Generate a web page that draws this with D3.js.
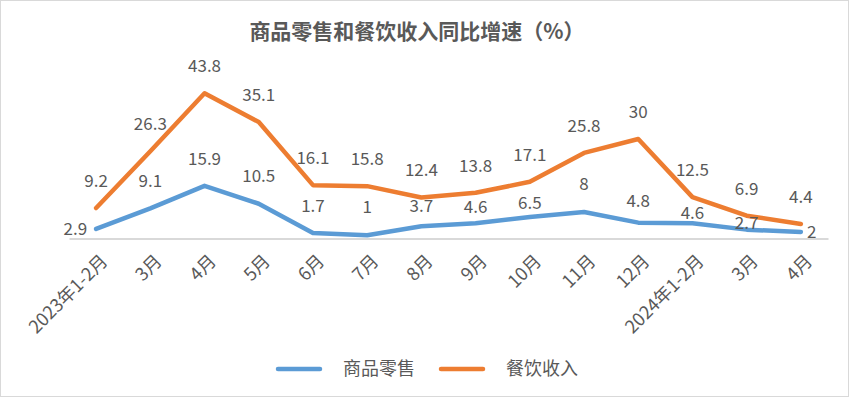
<!DOCTYPE html>
<html>
<head>
<meta charset="utf-8">
<script src="https://cdn.jsdelivr.net/npm/d3@7"></script>
<style>
  html, body { margin: 0; padding: 0; background: #fff; }
  svg { display: block; font-family: "Noto Sans CJK SC", "Noto Sans", sans-serif; }
</style>
</head>
<body>
<div id="chart"></div>
<script>
const categories = ['2023年1-2月', '3月', '4月', '5月', '6月', '7月', '8月', '9月', '10月', '11月', '12月', '2024年1-2月', '3月', '4月'];
const goodsValues = [2.9, 9.1, 15.9, 10.5, 1.7, 1, 3.7, 4.6, 6.5, 8, 4.8, 4.6, 2.7, 2];
const cateringValues = [9.2, 26.3, 43.8, 35.1, 16.1, 15.8, 12.4, 13.8, 17.1, 25.8, 30, 12.5, 6.9, 4.4];
const seriesNames = ['商品零售', '餐饮收入'];

// label distance above the point (excel nudged some of the blue ones)
const goodsLabelLift = [0, 27, 27, 28, 27, 28, 20, 16, 14, 28, 22, 10, 7, 0];

const width = 851;
const height = 399;
const margin = {top: 72, right: 23, bottom: 161, left: 69};
const textColor = '#595959';

const svg = d3.select('#chart').append('svg')
  .attr('width', width)
  .attr('height', height);

svg.append('rect')
  .attr('x', 0.5).attr('y', 0.5)
  .attr('width', width - 3).attr('height', height - 3)
  .attr('fill', '#fff')
  .attr('stroke', '#d9d9d9');

svg.append('text')
  .attr('x', 417)
  .attr('y', 39)
  .attr('text-anchor', 'middle')
  .attr('fill', textColor)
  .attr('font-size', 21)
  .attr('font-weight', 'bold')
  .text('商品零售和餐饮收入同比增速（%）');

const x = d3.scaleBand()
  .domain(d3.range(categories.length))
  .range([margin.left, width - margin.right]);

const y = d3.scaleLinear()
  .domain([0, 50])
  .range([height - margin.bottom + 0.6, margin.top + 0.6]);

const cx = i => x(i) + x.bandwidth() / 2;

// x axis
const xAxis = d3.axisBottom(x).tickSize(0).tickFormat(i => categories[i]);
const gx = svg.append('g')
  .attr('transform', `translate(0,${y(0)})`)
  .call(xAxis);
gx.select('.domain').attr('stroke', '#d9d9d9').attr('stroke-width', 2);
gx.selectAll('.tick text')
  .attr('fill', textColor)
  .attr('font-size', 18)
  .attr('font-family', '"Noto Sans CJK SC", sans-serif')
  .attr('text-anchor', 'end')
  .attr('dy', '0.35em')
  .attr('transform', 'translate(6,17) rotate(-45)');

const line = d3.line()
  .x((d, i) => cx(i))
  .y(d => y(d));

const series = [
  {name: seriesNames[0], values: goodsValues, color: '#5b9bd5'},
  {name: seriesNames[1], values: cateringValues, color: '#ed7d31'}
];

series.forEach(s => {
  svg.append('path')
    .datum(s.values)
    .attr('fill', 'none')
    .attr('stroke', s.color)
    .attr('stroke-width', 4.5)
    .attr('stroke-linejoin', 'round')
    .attr('stroke-linecap', 'round')
    .attr('d', line);
});

const labelFont = 17;

// orange labels, all above
svg.append('g').selectAll('text')
  .data(cateringValues)
  .join('text')
  .attr('x', (d, i) => cx(i))
  .attr('y', d => y(d) - 27)
  .attr('dy', '0.35em')
  .attr('text-anchor', 'middle')
  .attr('fill', textColor)
  .attr('font-size', labelFont)
  .text(d => d);

// blue labels: first to the left, last to the right, others above
const last = goodsValues.length - 1;
svg.append('g').selectAll('text')
  .data(goodsValues)
  .join('text')
  .attr('x', (d, i) => i === 0 ? cx(i) - 9 : i === last ? cx(i) + 6 : cx(i))
  .attr('y', (d, i) => y(d) - goodsLabelLift[i])
  .attr('dy', '0.35em')
  .attr('text-anchor', (d, i) => i === 0 ? 'end' : i === last ? 'start' : 'middle')
  .attr('fill', textColor)
  .attr('font-size', labelFont)
  .text(d => d);

// legend
const legend = svg.append('g').attr('transform', 'translate(276,369)');
const legendX = [0, 163];
series.forEach((s, i) => {
  const g = legend.append('g').attr('transform', `translate(${legendX[i]},0)`);
  g.append('line')
    .attr('x1', 2).attr('x2', 44)
    .attr('stroke', s.color)
    .attr('stroke-width', 4.5)
    .attr('stroke-linecap', 'round');
  g.append('text')
    .attr('x', 67)
    .attr('dy', '0.35em')
    .attr('fill', textColor)
    .attr('font-size', 18)
    .text(s.name);
});
</script>
</body>
</html>
